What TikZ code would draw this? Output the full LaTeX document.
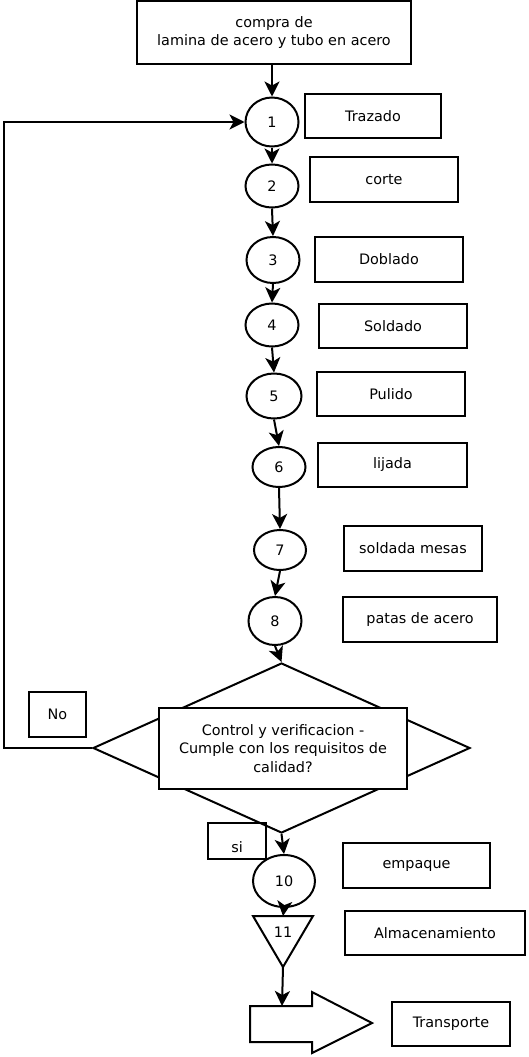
\documentclass[tikz,border=0pt]{standalone}
\usepackage{fontspec}
\setmainfont{DejaVu Sans}
\usetikzlibrary{shapes.geometric,arrows.meta}
\begin{document}
\begin{tikzpicture}[x=1pt,y=-1pt,
  every node/.style={font=\fontsize{14.4}{18.5}\selectfont},
  box/.style={draw,line width=2pt,inner sep=0pt,align=center},
  op/.style={draw,ellipse,line width=2pt,inner sep=0pt,minimum width=53pt,minimum height=45pt},
  arr/.style={line width=2pt,-{Stealth[length=15pt,width=15pt,inset=4pt]}},
  ln/.style={line width=2pt}]
\useasboundingbox (0,0) rectangle (529,1057);

% top box
\node[box,minimum width=274pt,minimum height=63pt] (buy) at (274,32.5) {compra de\\lamina de acero y tubo en acero};

% operations
\node[op,minimum height=49pt] (c1) at (272,122) {1};
\node[op,minimum height=43pt] (c2) at (272,186) {2};
\node[op,minimum height=46pt] (c3) at (273,260) {3};
\node[op,minimum height=43pt] (c4) at (272,325) {4};
\node[op,minimum width=55pt] (c5) at (274,396) {5};
\node[op,minimum height=40pt] (c6) at (279,467) {6};
\node[op,minimum width=52pt,minimum height=40pt] (c7) at (280,550) {7};
\node[op,minimum height=48pt] (c8) at (275,621) {8};

% labels
\node[box,minimum width=136pt,minimum height=44pt] (l1) at (373,116) {Trazado};
\node[box,minimum width=148pt,minimum height=45pt] (l2) at (384,179.5) {corte};
\node[box,minimum width=148pt,minimum height=45pt] (l3) at (389,259.5) {Doblado};
\node[box,minimum width=148pt,minimum height=44pt] (l4) at (393,326) {Soldado};
\node[box,minimum width=148pt,minimum height=44pt] (l5) at (391,394) {Pulido};
\node[box,minimum width=149pt,minimum height=44pt] (l6) at (392.5,465) {lijada};
\node[box,minimum width=138pt,minimum height=45pt] (l7) at (413,548.5) {soldada mesas};
\node[box,minimum width=154pt,minimum height=45pt] (l8) at (420,619.5) {patas de acero};

% decision
\node[box,minimum width=58pt,minimum height=36pt,text height=22pt,text depth=0pt] (si) at (237,841) {si};
\node[draw,diamond,line width=2pt,minimum width=377pt,minimum height=170pt,inner sep=0pt] (dec) at (281.5,748) {};
\node[box,fill=white,minimum width=248pt,minimum height=81pt] (q) at (283,748.5) {Control y verificacion -\\Cumple con los requisitos de\\calidad?};
\node[box,minimum width=57pt,minimum height=45pt] (no) at (57.5,714.5) {No};

% final steps
\node[op,minimum width=62pt,minimum height=52pt] (c10) at (284,881) {10};
\node[box,minimum width=147pt,minimum height=45pt] (l10) at (416.5,865.5) {empaque};

\draw[ln] (253,916) -- (313,916) -- (283,967) -- cycle;
\coordinate (t11in) at (283,916);
\coordinate (t11out) at (283,967);
\node (n11) at (283,932) {11};
\node[box,minimum width=180pt,minimum height=44pt] (l11) at (435,933) {Almacenamiento};

\draw[ln] (250,1006) -- (312,1006) -- (312,992) -- (372,1023) -- (312,1053) -- (312,1042) -- (250,1042) -- cycle;
\coordinate (trin) at (282,1006);
\node[box,minimum width=118pt,minimum height=44pt] (l12) at (451,1024) {Transporte};

% connectors
\draw[arr] (c1.north |- buy.south) -- (c1.north);
\draw[arr] (c1.south) -- (c2.north);
\draw[arr] (c2.south) -- (c3.north);
\draw[arr] (c3.south) -- (c4.north);
\draw[arr] (c4.south) -- (c5.north);
\draw[arr] (c5.south) -- (c6.north);
\draw[arr] (c6.south) -- (c7.north);
\draw[arr] (c7.south) -- (c8.north);
\draw[arr] (c8.south) -- (dec.north);
\draw[arr] (dec.south) -- (c10.north);
\draw[arr] (c10.south) -- (t11in);
\draw[arr] (t11out) -- (trin);
\draw[arr] (dec.west) -- (4,748) |- (c1.west);
\end{tikzpicture}
\end{document}
